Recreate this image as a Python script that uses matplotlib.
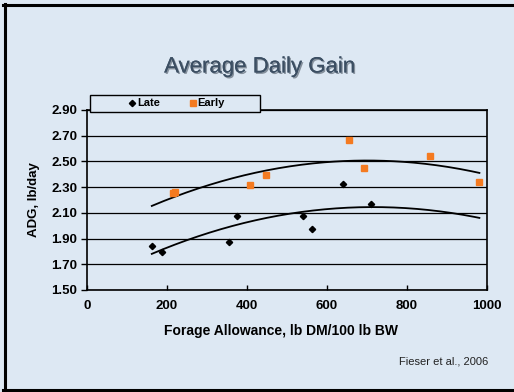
import numpy as np
import matplotlib
matplotlib.use("Agg")
import matplotlib.pyplot as plt
import matplotlib.patheffects as pe
from matplotlib.lines import Line2D
from matplotlib.patches import Rectangle

plt.rcParams['font.family'] = ['Liberation Sans', 'DejaVu Sans']

# data
late_x = [162, 187, 355, 376, 539, 562, 639, 709]
late_y = [1.845, 1.793, 1.876, 2.076, 2.076, 1.975, 2.322, 2.167]
early_x = [214, 221, 407, 447, 655, 692, 858, 981]
early_y = [2.258, 2.262, 2.317, 2.392, 2.667, 2.452, 2.540, 2.340]

# polynomial (2nd order) trendlines as drawn, coefficients a, b, c
late_trend = [-1.19e-6, 1.7017e-3, 1.5366]
early_trend = [-1.22e-6, 1.708e-3, 1.9092]
trend_span = [162, 981]

y_ticks = [1.50, 1.70, 1.90, 2.10, 2.30, 2.50, 2.70, 2.90]
x_ticks = [0, 200, 400, 600, 800, 1000]

BG = "#dde8f3"
ORANGE = "#f47a20"

fig = plt.figure(figsize=(5.14, 3.92), dpi=100)
fig.patch.set_facecolor(BG)

# slide frame
fig.add_artist(Line2D([4.5/514, 4.5/514], [0, 1 - 4/392], color="black", lw=2.2, transform=fig.transFigure))
fig.add_artist(Line2D([3/514, 1], [1 - 5/392, 1 - 5/392], color="black", lw=2.2, transform=fig.transFigure))
fig.add_artist(Line2D([3/514, 1], [2.5/392, 2.5/392], color="black", lw=2.2, transform=fig.transFigure))

ax = fig.add_axes([87/514, 1 - 290/392, 400/514, 180/392])
ax.set_facecolor(BG)

xs = np.linspace(trend_span[0], trend_span[1], 200)
for c in [early_trend, late_trend]:
    ax.plot(xs, np.polyval(c, xs), color="black", lw=1.3, zorder=3)

ax.plot(late_x, late_y, ls="none", marker="D", ms=3.2, color="black", label="Late", zorder=4)
ax.plot(early_x, early_y, ls="none", marker="s", ms=3.9, color=ORANGE, mec=ORANGE, label="Early", zorder=4)

ax.set_xlim(0, 1000)
ax.set_ylim(1.50, 2.90)
ax.set_yticks(y_ticks)
ax.set_yticklabels(["%.2f" % v for v in y_ticks])
ax.set_xticks(x_ticks)
ax.grid(axis="y", color="black", lw=0.9)
ax.set_axisbelow(True)
for s in ax.spines.values():
    s.set_linewidth(1.2)
ax.tick_params(axis="y", direction="out", length=4, width=1, labelsize=9.5, pad=3)
ax.tick_params(axis="x", direction="in", length=3.5, width=1, labelsize=9.5, pad=7)
for lab in ax.get_xticklabels() + ax.get_yticklabels():
    lab.set_fontweight("bold")

ax.set_xlabel("Forage Allowance, lb DM/100 lb BW", fontsize=10, fontweight="bold")
ax.xaxis.set_label_coords(0.484, -0.19)
ax.set_ylabel("ADG, lb/day", fontsize=9.5, fontweight="bold", labelpad=8)

# legend box
fig.add_artist(Rectangle((91/514, 1 - 113/392), 170/514, 17/392, transform=fig.transFigure,
                         facecolor="#888888", edgecolor="none", zorder=9))
fig.add_artist(Rectangle((90/514, 1 - 112/392), 170/514, 17/392, transform=fig.transFigure,
                         facecolor=BG, edgecolor="black", lw=1.0, zorder=9))
leg = fig.legend(loc="center", bbox_to_anchor=(177/514, 1 - 103.5/392), ncol=2, frameon=False,
                 handlelength=0.5, handletextpad=0.2, columnspacing=2.7,
                 prop={"size": 8, "weight": "bold"})
leg.set_zorder(10)

fig.text(260/514, 1 - 67/392, "Average Daily Gain", ha="center", va="center", fontsize=16,
         color="#3c4f63",
         path_effects=[pe.withSimplePatchShadow(offset=(1, -1), shadow_rgbFace="#1a2633", alpha=0.45),
                       pe.Normal()])
fig.text(488/514, 1 - 361/392, "Fieser et al., 2006", ha="right", va="center", fontsize=8, color="#222222")

fig.savefig("out.png", dpi=100, facecolor=BG)
